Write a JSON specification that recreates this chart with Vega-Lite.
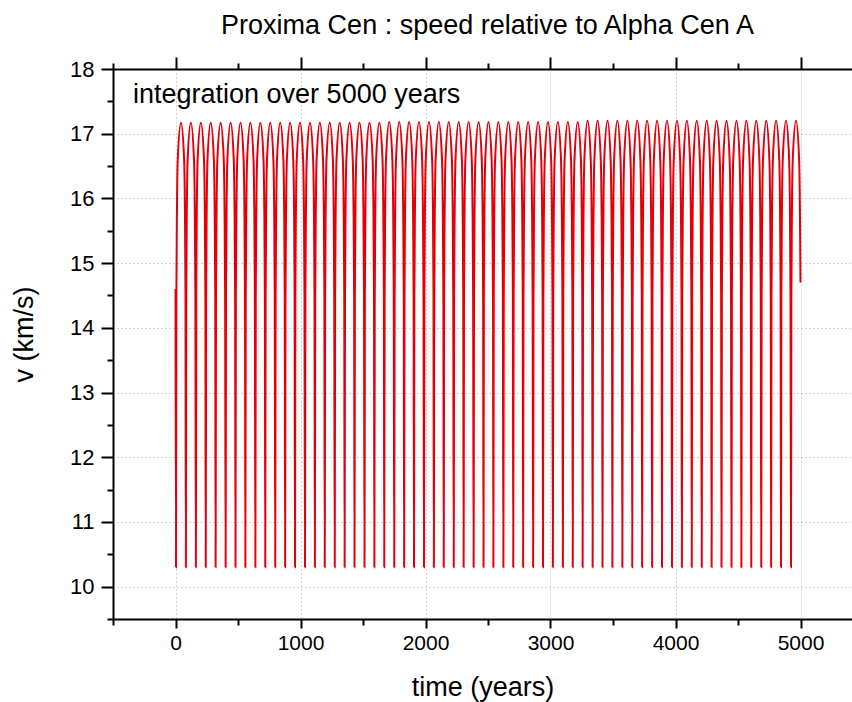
{
"$schema":"https://vega.github.io/schema/vega-lite/v6.json",
"width":739,"height":550,
"autosize":{"type":"none"},
"padding":{"left":113,"top":69,"right":0,"bottom":83},
"background":"#ffffff",
"title":{"text":"Proxima Cen : speed relative to Alpha Cen A","fontSize":27,"fontWeight":"normal","font":"Liberation Sans","color":"#000000","baseline":"alphabetic","offset":-5,"anchor":"middle","frame":"group","dx":5},
"config":{"font":"Liberation Sans","view":{"stroke":null}},
"resolve":{"axis":{"x":"independent","y":"independent"}},
"layer":[
{
"data":{"values":[
{"t":0,"v":14.6},
{"t":4,"v":10.3},{"t":7,"v":14.5},{"t":12,"v":15.9},{"t":18,"v":16.6},{"t":44,"v":17.17},{"t":69,"v":16.6},{"t":75,"v":15.9},{"t":80,"v":14.5},
{"t":83,"v":10.3},{"t":86,"v":14.5},{"t":91,"v":15.9},{"t":97,"v":16.6},{"t":123,"v":17.17},{"t":148,"v":16.6},{"t":154,"v":15.9},{"t":159,"v":14.5},
{"t":163,"v":10.3},{"t":166,"v":14.5},{"t":171,"v":15.9},{"t":177,"v":16.6},{"t":203,"v":17.17},{"t":228,"v":16.6},{"t":234,"v":15.9},{"t":239,"v":14.5},
{"t":242,"v":10.3},{"t":245,"v":14.5},{"t":250,"v":15.9},{"t":256,"v":16.6},{"t":282,"v":17.17},{"t":307,"v":16.6},{"t":313,"v":15.9},{"t":318,"v":14.5},
{"t":321,"v":10.3},{"t":324,"v":14.5},{"t":329,"v":15.9},{"t":335,"v":16.6},{"t":361,"v":17.17},{"t":386,"v":16.6},{"t":392,"v":15.9},{"t":397,"v":14.5},
{"t":401,"v":10.3},{"t":404,"v":14.5},{"t":409,"v":15.9},{"t":415,"v":16.6},{"t":441,"v":17.17},{"t":466,"v":16.6},{"t":472,"v":15.9},{"t":477,"v":14.5},
{"t":480,"v":10.3},{"t":483,"v":14.5},{"t":488,"v":15.9},{"t":494,"v":16.6},{"t":520,"v":17.17},{"t":545,"v":16.6},{"t":551,"v":15.9},{"t":556,"v":14.5},
{"t":559,"v":10.3},{"t":562,"v":14.5},{"t":567,"v":15.9},{"t":573,"v":16.6},{"t":599,"v":17.17},{"t":624,"v":16.6},{"t":630,"v":15.9},{"t":635,"v":14.5},
{"t":639,"v":10.3},{"t":642,"v":14.5},{"t":647,"v":15.9},{"t":653,"v":16.6},{"t":679,"v":17.17},{"t":704,"v":16.6},{"t":710,"v":15.9},{"t":715,"v":14.5},
{"t":718,"v":10.3},{"t":721,"v":14.5},{"t":726,"v":15.9},{"t":732,"v":16.6},{"t":758,"v":17.17},{"t":783,"v":16.6},{"t":789,"v":15.9},{"t":794,"v":14.5},
{"t":798,"v":10.3},{"t":801,"v":14.5},{"t":806,"v":15.9},{"t":812,"v":16.6},{"t":838,"v":17.17},{"t":863,"v":16.6},{"t":869,"v":15.9},{"t":874,"v":14.5},
{"t":877,"v":10.3},{"t":880,"v":14.5},{"t":885,"v":15.9},{"t":891,"v":16.6},{"t":917,"v":17.17},{"t":942,"v":16.6},{"t":948,"v":15.9},{"t":953,"v":14.5},
{"t":956,"v":10.3},{"t":959,"v":14.5},{"t":964,"v":15.9},{"t":970,"v":16.6},{"t":996,"v":17.17},{"t":1021,"v":16.6},{"t":1027,"v":15.9},{"t":1032,"v":14.5},
{"t":1036,"v":10.3},{"t":1039,"v":14.5},{"t":1044,"v":15.9},{"t":1050,"v":16.6},{"t":1076,"v":17.17},{"t":1101,"v":16.6},{"t":1107,"v":15.9},{"t":1112,"v":14.5},
{"t":1115,"v":10.3},{"t":1118,"v":14.5},{"t":1123,"v":15.9},{"t":1129,"v":16.6},{"t":1155,"v":17.17},{"t":1180,"v":16.6},{"t":1186,"v":15.9},{"t":1191,"v":14.5},
{"t":1194,"v":10.3},{"t":1197,"v":14.5},{"t":1202,"v":15.9},{"t":1208,"v":16.6},{"t":1234,"v":17.17},{"t":1259,"v":16.6},{"t":1265,"v":15.9},{"t":1270,"v":14.5},
{"t":1274,"v":10.3},{"t":1277,"v":14.5},{"t":1282,"v":15.9},{"t":1288,"v":16.6},{"t":1314,"v":17.17},{"t":1339,"v":16.6},{"t":1345,"v":15.9},{"t":1350,"v":14.5},
{"t":1353,"v":10.3},{"t":1356,"v":14.5},{"t":1361,"v":15.9},{"t":1367,"v":16.6},{"t":1393,"v":17.17},{"t":1418,"v":16.6},{"t":1424,"v":15.9},{"t":1429,"v":14.5},
{"t":1432,"v":10.3},{"t":1435,"v":14.5},{"t":1440,"v":15.9},{"t":1446,"v":16.6},{"t":1472,"v":17.17},{"t":1497,"v":16.6},{"t":1503,"v":15.9},{"t":1508,"v":14.5},
{"t":1512,"v":10.3},{"t":1515,"v":14.5},{"t":1520,"v":15.9},{"t":1526,"v":16.6},{"t":1552,"v":17.17},{"t":1577,"v":16.6},{"t":1583,"v":15.9},{"t":1588,"v":14.5},
{"t":1591,"v":10.3},{"t":1594,"v":14.5},{"t":1599,"v":15.9},{"t":1605,"v":16.6},{"t":1631,"v":17.17},{"t":1656,"v":16.6},{"t":1662,"v":15.9},{"t":1667,"v":14.5},
{"t":1670,"v":10.3},{"t":1673,"v":14.5},{"t":1678,"v":15.9},{"t":1684,"v":16.6},{"t":1710,"v":17.18},{"t":1735,"v":16.6},{"t":1741,"v":15.9},{"t":1746,"v":14.5},
{"t":1750,"v":10.3},{"t":1753,"v":14.5},{"t":1758,"v":15.9},{"t":1764,"v":16.6},{"t":1790,"v":17.18},{"t":1815,"v":16.6},{"t":1821,"v":15.9},{"t":1826,"v":14.5},
{"t":1829,"v":10.3},{"t":1832,"v":14.5},{"t":1837,"v":15.9},{"t":1843,"v":16.6},{"t":1869,"v":17.18},{"t":1894,"v":16.6},{"t":1900,"v":15.9},{"t":1905,"v":14.5},
{"t":1908,"v":10.3},{"t":1911,"v":14.5},{"t":1916,"v":15.9},{"t":1922,"v":16.6},{"t":1948,"v":17.18},{"t":1973,"v":16.6},{"t":1979,"v":15.9},{"t":1984,"v":14.5},
{"t":1988,"v":10.3},{"t":1991,"v":14.5},{"t":1996,"v":15.9},{"t":2002,"v":16.6},{"t":2028,"v":17.18},{"t":2053,"v":16.6},{"t":2059,"v":15.9},{"t":2064,"v":14.5},
{"t":2067,"v":10.3},{"t":2070,"v":14.5},{"t":2075,"v":15.9},{"t":2081,"v":16.6},{"t":2107,"v":17.18},{"t":2132,"v":16.6},{"t":2138,"v":15.9},{"t":2143,"v":14.5},
{"t":2146,"v":10.3},{"t":2149,"v":14.5},{"t":2154,"v":15.9},{"t":2160,"v":16.6},{"t":2186,"v":17.18},{"t":2211,"v":16.6},{"t":2217,"v":15.9},{"t":2222,"v":14.5},
{"t":2226,"v":10.3},{"t":2229,"v":14.5},{"t":2234,"v":15.9},{"t":2240,"v":16.6},{"t":2266,"v":17.18},{"t":2291,"v":16.6},{"t":2297,"v":15.9},{"t":2302,"v":14.5},
{"t":2305,"v":10.3},{"t":2308,"v":14.5},{"t":2313,"v":15.9},{"t":2319,"v":16.6},{"t":2345,"v":17.18},{"t":2370,"v":16.6},{"t":2376,"v":15.9},{"t":2381,"v":14.5},
{"t":2385,"v":10.3},{"t":2388,"v":14.5},{"t":2393,"v":15.9},{"t":2399,"v":16.6},{"t":2425,"v":17.18},{"t":2450,"v":16.6},{"t":2456,"v":15.9},{"t":2461,"v":14.5},
{"t":2464,"v":10.3},{"t":2467,"v":14.5},{"t":2472,"v":15.9},{"t":2478,"v":16.6},{"t":2504,"v":17.18},{"t":2529,"v":16.6},{"t":2535,"v":15.9},{"t":2540,"v":14.5},
{"t":2543,"v":10.3},{"t":2546,"v":14.5},{"t":2551,"v":15.9},{"t":2557,"v":16.6},{"t":2583,"v":17.18},{"t":2608,"v":16.6},{"t":2614,"v":15.9},{"t":2619,"v":14.5},
{"t":2623,"v":10.3},{"t":2626,"v":14.5},{"t":2631,"v":15.9},{"t":2637,"v":16.6},{"t":2663,"v":17.18},{"t":2688,"v":16.6},{"t":2694,"v":15.9},{"t":2699,"v":14.5},
{"t":2702,"v":10.3},{"t":2705,"v":14.5},{"t":2710,"v":15.9},{"t":2716,"v":16.6},{"t":2742,"v":17.18},{"t":2767,"v":16.6},{"t":2773,"v":15.9},{"t":2778,"v":14.5},
{"t":2781,"v":10.3},{"t":2784,"v":14.5},{"t":2789,"v":15.9},{"t":2795,"v":16.6},{"t":2821,"v":17.18},{"t":2846,"v":16.6},{"t":2852,"v":15.9},{"t":2857,"v":14.5},
{"t":2861,"v":10.3},{"t":2864,"v":14.5},{"t":2869,"v":15.9},{"t":2875,"v":16.6},{"t":2901,"v":17.18},{"t":2926,"v":16.6},{"t":2932,"v":15.9},{"t":2937,"v":14.5},
{"t":2940,"v":10.3},{"t":2943,"v":14.5},{"t":2948,"v":15.9},{"t":2954,"v":16.6},{"t":2980,"v":17.18},{"t":3005,"v":16.6},{"t":3011,"v":15.9},{"t":3016,"v":14.5},
{"t":3019,"v":10.3},{"t":3022,"v":14.5},{"t":3027,"v":15.9},{"t":3033,"v":16.6},{"t":3059,"v":17.18},{"t":3084,"v":16.6},{"t":3090,"v":15.9},{"t":3095,"v":14.5},
{"t":3099,"v":10.3},{"t":3102,"v":14.5},{"t":3107,"v":15.9},{"t":3113,"v":16.6},{"t":3139,"v":17.18},{"t":3164,"v":16.6},{"t":3170,"v":15.9},{"t":3175,"v":14.5},
{"t":3178,"v":10.3},{"t":3181,"v":14.5},{"t":3186,"v":15.9},{"t":3192,"v":16.6},{"t":3218,"v":17.18},{"t":3243,"v":16.6},{"t":3249,"v":15.9},{"t":3254,"v":14.5},
{"t":3257,"v":10.3},{"t":3260,"v":14.5},{"t":3265,"v":15.9},{"t":3271,"v":16.6},{"t":3297,"v":17.2},{"t":3322,"v":16.6},{"t":3328,"v":15.9},{"t":3333,"v":14.5},
{"t":3337,"v":10.3},{"t":3340,"v":14.5},{"t":3345,"v":15.9},{"t":3351,"v":16.6},{"t":3377,"v":17.2},{"t":3402,"v":16.6},{"t":3408,"v":15.9},{"t":3413,"v":14.5},
{"t":3416,"v":10.3},{"t":3419,"v":14.5},{"t":3424,"v":15.9},{"t":3430,"v":16.6},{"t":3456,"v":17.2},{"t":3481,"v":16.6},{"t":3487,"v":15.9},{"t":3492,"v":14.5},
{"t":3495,"v":10.3},{"t":3498,"v":14.5},{"t":3503,"v":15.9},{"t":3509,"v":16.6},{"t":3535,"v":17.2},{"t":3560,"v":16.6},{"t":3566,"v":15.9},{"t":3571,"v":14.5},
{"t":3575,"v":10.3},{"t":3578,"v":14.5},{"t":3583,"v":15.9},{"t":3589,"v":16.6},{"t":3615,"v":17.2},{"t":3640,"v":16.6},{"t":3646,"v":15.9},{"t":3651,"v":14.5},
{"t":3654,"v":10.3},{"t":3657,"v":14.5},{"t":3662,"v":15.9},{"t":3668,"v":16.6},{"t":3694,"v":17.2},{"t":3719,"v":16.6},{"t":3725,"v":15.9},{"t":3730,"v":14.5},
{"t":3733,"v":10.3},{"t":3736,"v":14.5},{"t":3741,"v":15.9},{"t":3747,"v":16.6},{"t":3773,"v":17.2},{"t":3798,"v":16.6},{"t":3804,"v":15.9},{"t":3809,"v":14.5},
{"t":3813,"v":10.3},{"t":3816,"v":14.5},{"t":3821,"v":15.9},{"t":3827,"v":16.6},{"t":3853,"v":17.2},{"t":3878,"v":16.6},{"t":3884,"v":15.9},{"t":3889,"v":14.5},
{"t":3892,"v":10.3},{"t":3895,"v":14.5},{"t":3900,"v":15.9},{"t":3906,"v":16.6},{"t":3932,"v":17.2},{"t":3957,"v":16.6},{"t":3963,"v":15.9},{"t":3968,"v":14.5},
{"t":3972,"v":10.3},{"t":3975,"v":14.5},{"t":3980,"v":15.9},{"t":3986,"v":16.6},{"t":4012,"v":17.2},{"t":4037,"v":16.6},{"t":4043,"v":15.9},{"t":4048,"v":14.5},
{"t":4051,"v":10.3},{"t":4054,"v":14.5},{"t":4059,"v":15.9},{"t":4065,"v":16.6},{"t":4091,"v":17.2},{"t":4116,"v":16.6},{"t":4122,"v":15.9},{"t":4127,"v":14.5},
{"t":4130,"v":10.3},{"t":4133,"v":14.5},{"t":4138,"v":15.9},{"t":4144,"v":16.6},{"t":4170,"v":17.2},{"t":4195,"v":16.6},{"t":4201,"v":15.9},{"t":4206,"v":14.5},
{"t":4210,"v":10.3},{"t":4213,"v":14.5},{"t":4218,"v":15.9},{"t":4224,"v":16.6},{"t":4250,"v":17.2},{"t":4275,"v":16.6},{"t":4281,"v":15.9},{"t":4286,"v":14.5},
{"t":4289,"v":10.3},{"t":4292,"v":14.5},{"t":4297,"v":15.9},{"t":4303,"v":16.6},{"t":4329,"v":17.2},{"t":4354,"v":16.6},{"t":4360,"v":15.9},{"t":4365,"v":14.5},
{"t":4368,"v":10.3},{"t":4371,"v":14.5},{"t":4376,"v":15.9},{"t":4382,"v":16.6},{"t":4408,"v":17.2},{"t":4433,"v":16.6},{"t":4439,"v":15.9},{"t":4444,"v":14.5},
{"t":4448,"v":10.3},{"t":4451,"v":14.5},{"t":4456,"v":15.9},{"t":4462,"v":16.6},{"t":4488,"v":17.2},{"t":4513,"v":16.6},{"t":4519,"v":15.9},{"t":4524,"v":14.5},
{"t":4527,"v":10.3},{"t":4530,"v":14.5},{"t":4535,"v":15.9},{"t":4541,"v":16.6},{"t":4567,"v":17.2},{"t":4592,"v":16.6},{"t":4598,"v":15.9},{"t":4603,"v":14.5},
{"t":4606,"v":10.3},{"t":4609,"v":14.5},{"t":4614,"v":15.9},{"t":4620,"v":16.6},{"t":4646,"v":17.2},{"t":4671,"v":16.6},{"t":4677,"v":15.9},{"t":4682,"v":14.5},
{"t":4686,"v":10.3},{"t":4689,"v":14.5},{"t":4694,"v":15.9},{"t":4700,"v":16.6},{"t":4726,"v":17.2},{"t":4751,"v":16.6},{"t":4757,"v":15.9},{"t":4762,"v":14.5},
{"t":4765,"v":10.3},{"t":4768,"v":14.5},{"t":4773,"v":15.9},{"t":4779,"v":16.6},{"t":4805,"v":17.2},{"t":4830,"v":16.6},{"t":4836,"v":15.9},{"t":4841,"v":14.5},
{"t":4844,"v":10.3},{"t":4847,"v":14.5},{"t":4852,"v":15.9},{"t":4858,"v":16.6},{"t":4884,"v":17.2},{"t":4909,"v":16.6},{"t":4915,"v":15.9},{"t":4920,"v":14.5},
{"t":4924,"v":10.3},{"t":4927,"v":14.5},{"t":4932,"v":15.9},{"t":4938,"v":16.6},{"t":4964,"v":17.2},{"t":4989,"v":16.6},{"t":4995,"v":15.9},{"t":5000,"v":14.7}
]},
"mark":{"type":"line","color":"#e3000b","strokeWidth":2,"interpolate":"monotone","clip":true},
"encoding":{
"x":{"field":"t","type":"quantitative","scale":{"domain":[-500,5412],"nice":false,"zero":false},
"axis":{"orient":"bottom","values":[-500,0,500,1000,1500,2000,2500,3000,3500,4000,4500,5000],"format":"d",
"labelExpr":"datum.value % 1000 === 0 ? datum.label : ''","labelFontSize":21,"labelColor":"#000000","labelPadding":4,"labelOverlap":false,"labelFlush":false,
"tickSize":{"condition":{"test":"datum.value % 1000 === 0","value":9},"value":6},"tickColor":"#000000","tickWidth":2,
"domainColor":"#000000","domainWidth":2,
"grid":true,"gridColor":"#aaaaaa","gridDash":[1,3],"gridWidth":1,
"gridOpacity":{"condition":{"test":"datum.value % 1000 === 0 && datum.value >= 0","value":1},"value":0},
"title":"time (years)","titleFontSize":27,"titleFontWeight":"normal","titleColor":"#000000","titleBaseline":"alphabetic","titleY":76}},
"y":{"field":"v","type":"quantitative","scale":{"domain":[9.5,18],"nice":false,"zero":false},
"axis":{"orient":"left","values":[9.5,10,10.5,11,11.5,12,12.5,13,13.5,14,14.5,15,15.5,16,16.5,17,17.5,18],"format":".0f",
"labelExpr":"datum.value % 1 === 0 ? datum.label : ''","labelFontSize":22,"labelColor":"#000000","labelPadding":7,"labelOverlap":false,"labelFlush":false,
"tickSize":{"condition":{"test":"datum.value % 1 === 0","value":12},"value":6},"tickColor":"#000000","tickWidth":2,
"domainColor":"#000000","domainWidth":2,
"grid":true,"gridColor":"#aaaaaa","gridDash":[1,3],"gridWidth":1,
"gridOpacity":{"condition":{"test":"datum.value % 1 === 0 && datum.value < 18 && datum.value >= 10","value":1},"value":0},
"title":"v (km/s)","titleFontSize":27,"titleFontWeight":"normal","titleColor":"#000000","titleBaseline":"alphabetic","titleX":-81,"titleY":265}}
}
},
{
"data":{"values":[{}]},
"mark":{"type":"text","align":"left","baseline":"alphabetic","fontSize":27,"font":"Liberation Sans","color":"#000000"},
"encoding":{
"x":{"datum":-340,"type":"quantitative","scale":{"domain":[-500,5412],"nice":false,"zero":false},
"axis":{"orient":"top","values":[-500,0,500,1000,1500,2000,2500,3000,3500,4000,4500,5000],"labels":false,"grid":false,"title":null,
"tickSize":{"condition":{"test":"datum.value % 1000 === 0","value":12},"value":6},"tickColor":"#000000","tickWidth":2,
"domainColor":"#000000","domainWidth":2}},
"y":{"datum":17.47,"type":"quantitative","axis":null},
"text":{"value":"integration over 5000 years"}
}
}
]
}
